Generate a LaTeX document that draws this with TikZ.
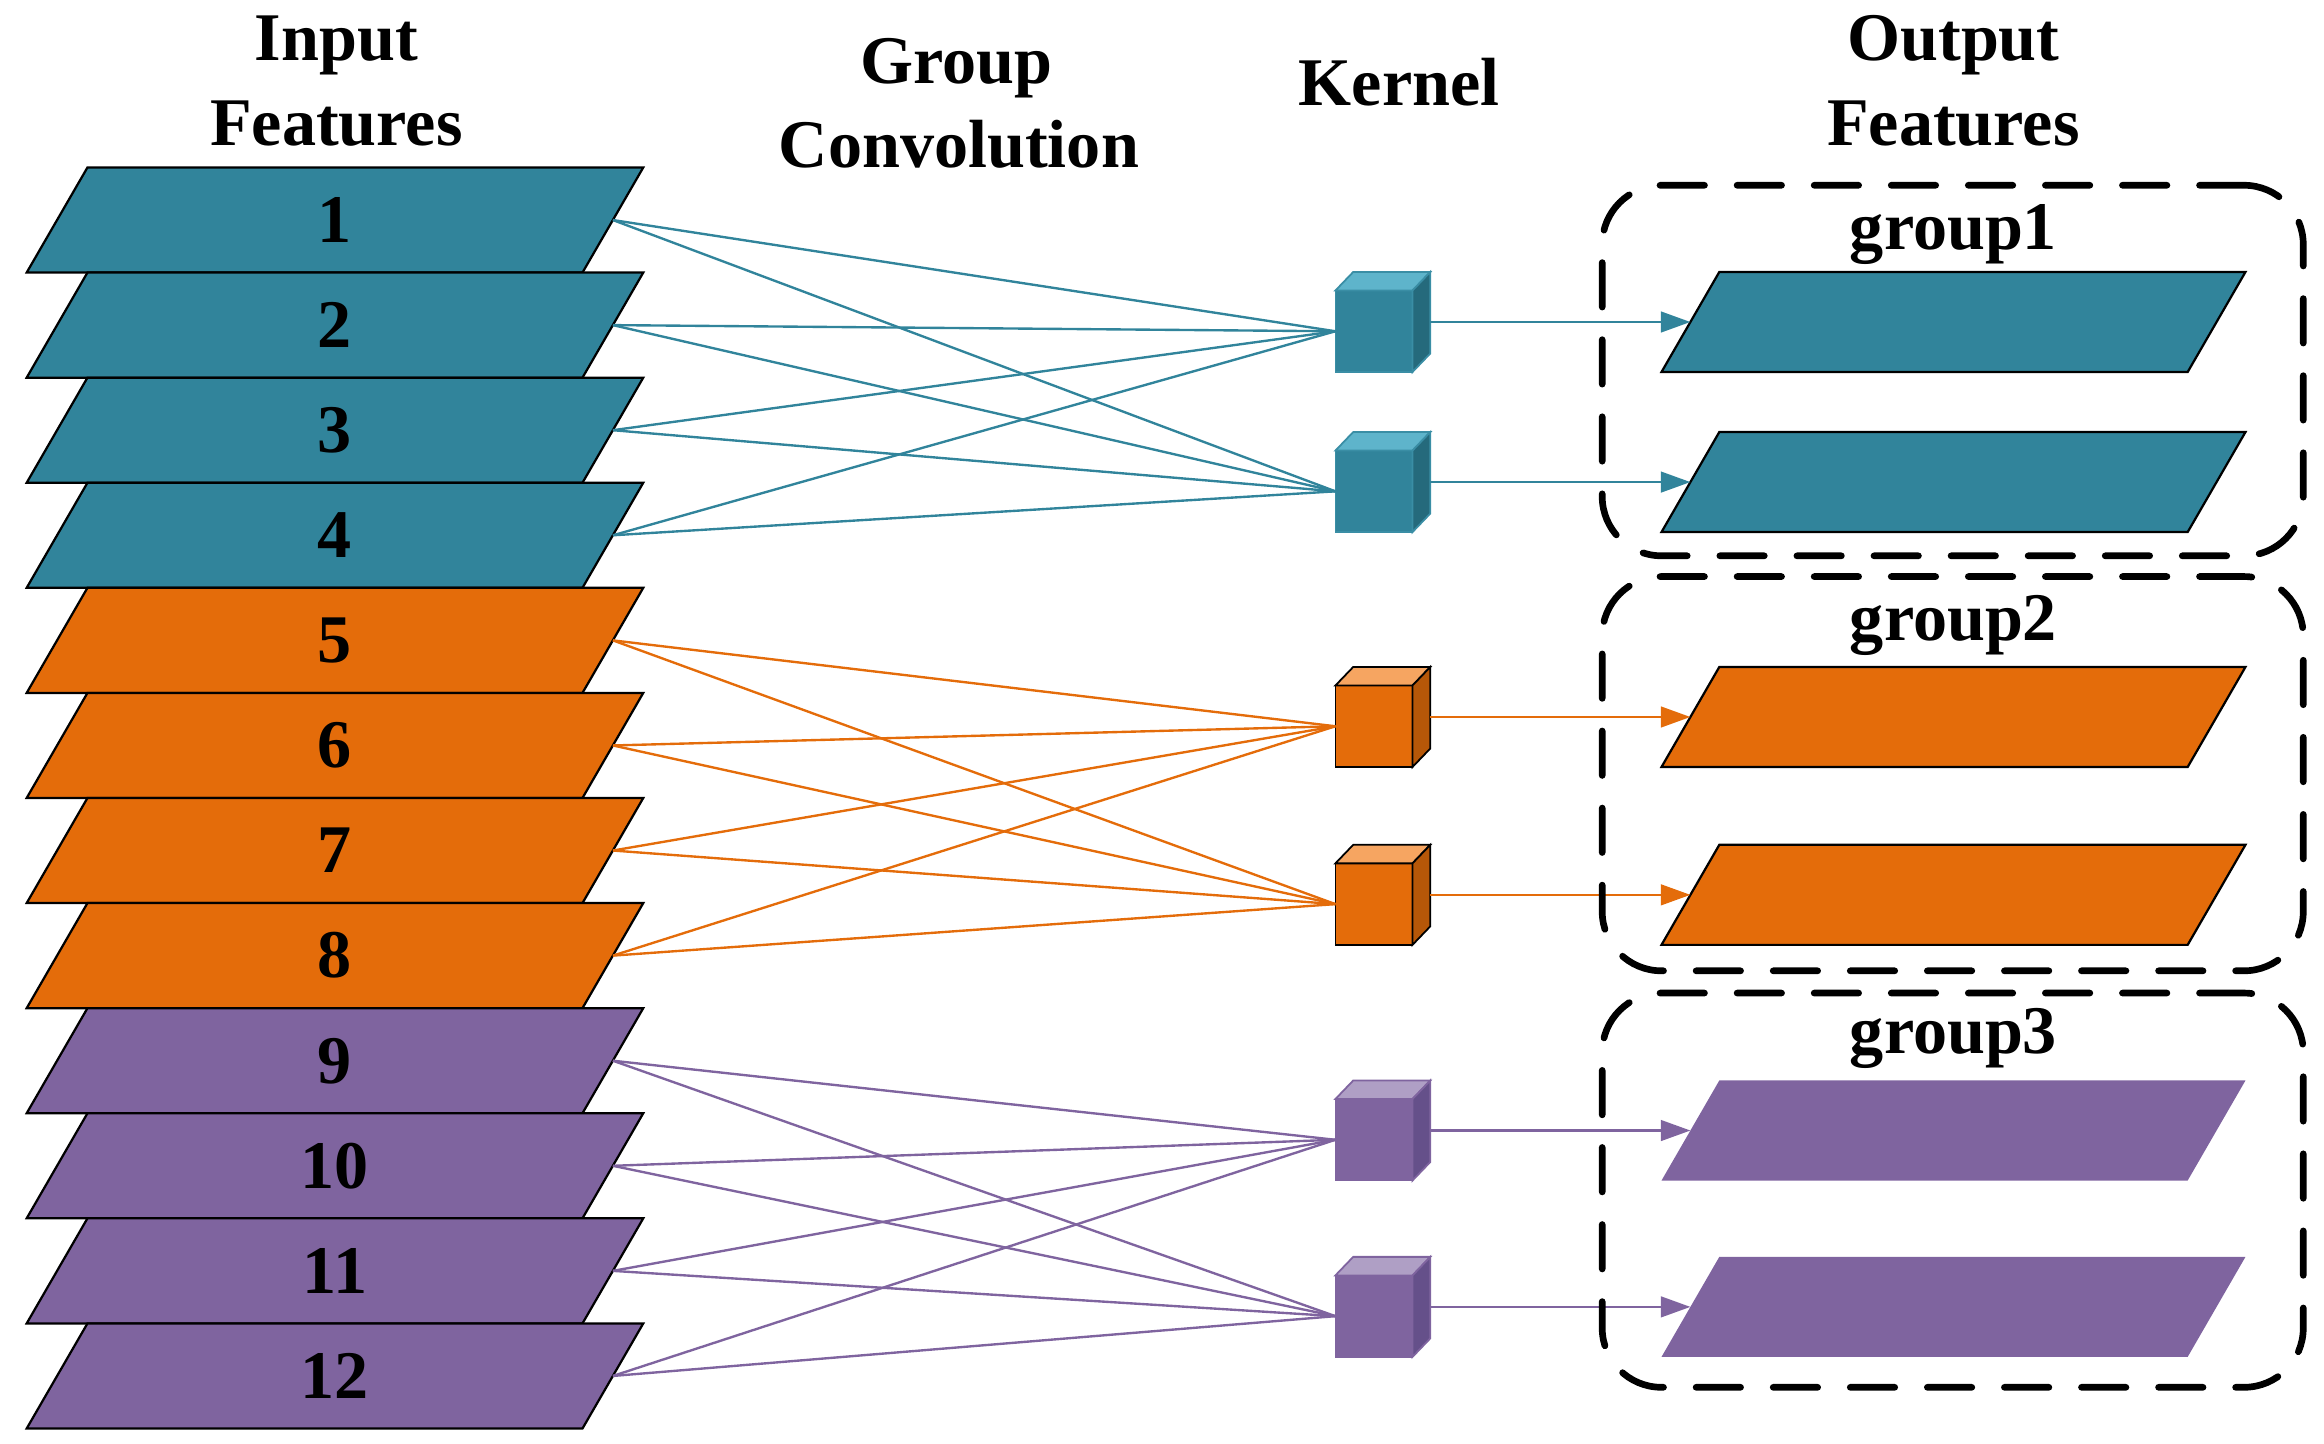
\documentclass[tikz,border=0pt]{standalone}
\usepackage{fontspec}
\setmainfont{Liberation Serif}
\usetikzlibrary{arrows.meta}
\definecolor{grpaF}{HTML}{31849B}
\definecolor{grpaT}{HTML}{5EB4CB}
\definecolor{grpaS}{HTML}{256A7C}
\definecolor{grpaK}{HTML}{3A8EA5}
\definecolor{grpbF}{HTML}{E46C0A}
\definecolor{grpbT}{HTML}{F6A561}
\definecolor{grpbS}{HTML}{B65708}
\definecolor{grpbK}{HTML}{000000}
\definecolor{grpcF}{HTML}{7F649F}
\definecolor{grpcT}{HTML}{AF9FC5}
\definecolor{grpcS}{HTML}{65508A}
\definecolor{grpcK}{HTML}{7F649F}
\begin{document}
\begin{tikzpicture}[x=1bp,y=-1bp,
  bigtxt/.style={font=\fontsize{46bp}{56bp}\selectfont\bfseries, inner sep=0pt, anchor=base},
  conn/.style={line width=1.6bp},
  arr/.style={line width=1.6bp, -{Triangle[length=20bp,width=14bp]}},
  gbox/.style={draw=black, rounded corners=40bp, line width=4.5bp, line cap=round,
               dash pattern=on 30bp off 22bp, inner sep=0pt, minimum width=473bp},
  outa/.style={fill=grpaF, draw=black, line width=1.5bp},
  outb/.style={fill=grpbF, draw=black, line width=1.5bp},
  outc/.style={fill=grpcF, draw=none}]
\useasboundingbox (0,0) rectangle (1568,974);

% titles
\node[bigtxt] (tin1) at (227,41) {Input};
\node[bigtxt] (tin2) at (227,98) {Features};
\node[bigtxt] (tgc1) at (645,56) {Group};
\node[bigtxt] (tgc2) at (647,113) {Convolution};
\node[bigtxt] (tker) at (944,71) {Kernel};
\node[bigtxt] (tout1) at (1318,41) {Output};
\node[bigtxt] (tout2) at (1318,98) {Features};

% input feature maps
\foreach \i in {1,...,12}{
  \pgfmathsetmacro{\T}{113+70.9*(\i-1)}
  \pgfmathsetmacro{\B}{\T+70.9}
  \pgfmathtruncatemacro{\g}{int((\i-1)/4)}
  \edef\gc{\ifcase\g a\or b\else c\fi}
  \filldraw[fill=grp\gc F, draw=black, line width=1.5bp] (59,\T) -- (434,\T) -- (393,\B) -- (18,\B) -- cycle;
  \node[bigtxt] (in\i) at (226,\T+50.5) {\i};
  \coordinate (inr\i) at (413.5,\T+35.45);
}

% kernels and outputs
\foreach \j/\F in {1/196,2/304,3/462.5,4/582.5,5/741.5,6/860.5}{
  \pgfmathtruncatemacro{\g}{int((\j-1)/2)}
  \edef\gc{\ifcase\g a\or b\else c\fi}
  \coordinate (kl\j) at (901,\F+27.5);
  \coordinate (kr\j) at (965,\F+21.25);
  \coordinate (ol\j) at (1140.5,\F+21.25);
  \filldraw[fill=grp\gc F, draw=grp\gc K, line width=1.2bp] (901,\F) rectangle (953,\F+55);
  \filldraw[fill=grp\gc T, draw=grp\gc K, line width=1.2bp] (901,\F) -- (913,\F-12.5) -- (965,\F-12.5) -- (953,\F) -- cycle;
  \filldraw[fill=grp\gc S, draw=grp\gc K, line width=1.2bp] (953,\F) -- (965,\F-12.5) -- (965,\F+42.5) -- (953,\F+55) -- cycle;
  \path[out\gc] (1160,\F-12.5) -- (1515,\F-12.5) -- (1476,\F+55) -- (1121,\F+55) -- cycle;
  \draw[arr, grp\gc F] (kr\j) -- (ol\j);
}

% connections
\foreach \i in {1,...,12}{
  \pgfmathtruncatemacro{\g}{int((\i-1)/4)}
  \edef\gc{\ifcase\g a\or b\else c\fi}
  \pgfmathtruncatemacro{\ka}{2*\g+1}
  \pgfmathtruncatemacro{\kb}{2*\g+2}
  \draw[conn, grp\gc F] (inr\i) -- (kl\ka);
  \draw[conn, grp\gc F] (inr\i) -- (kl\kb);
}

% group boxes
\node[gbox, minimum height=250bp] (box1) at (1317.5,250) {};
\node[gbox, minimum height=266bp] (box2) at (1317.5,522) {};
\node[gbox, minimum height=266bp] (box3) at (1317.5,803) {};
\node[bigtxt] (g1) at (1318,168) {group1};
\node[bigtxt] (g2) at (1318,432) {group2};
\node[bigtxt] (g3) at (1318,711) {group3};
\end{tikzpicture}
\end{document}
